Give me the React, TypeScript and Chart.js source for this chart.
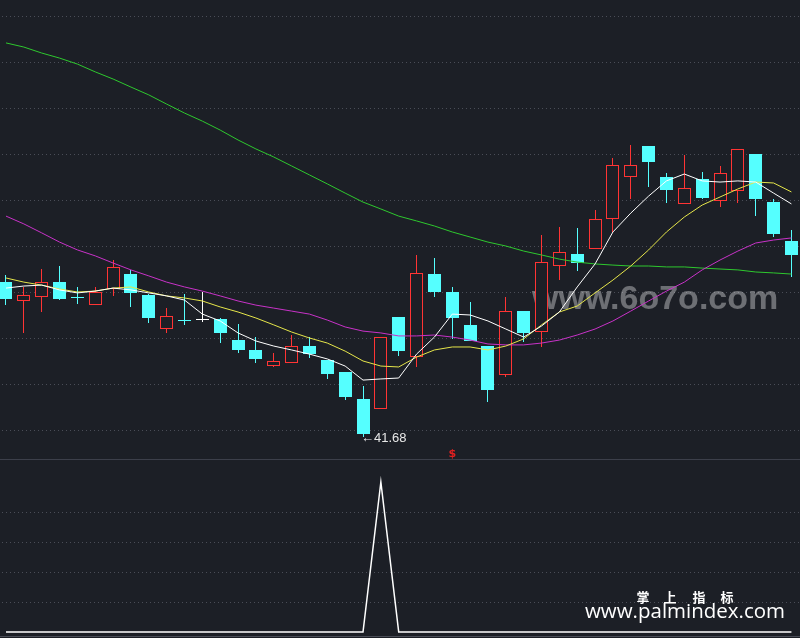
import React, { useEffect, useRef } from "react";
import { Chart, registerables } from "chart.js";

Chart.register(...registerables);

// ---------- data ----------
const open = [48.43, 47.61, 47.78, 48.43, 47.78, 47.43, 48.13, 48.78, 47.87, 46.39, 46.74, 46.78, 46.83, 45.91, 45.48, 44.78, 44.91, 45.65, 45.04, 44.52, 43.35, 42.91, 46.91, 45.17, 48.78, 48.0, 46.57, 45.65, 44.39, 47.17, 46.26, 49.13, 49.65, 49.87, 51.17, 53.0, 54.35, 53.0, 51.83, 52.91, 51.96, 52.39, 54.0, 51.91, 50.22];
const high = [48.74, 48.22, 49.0, 49.13, 48.22, 48.22, 49.39, 48.96, 47.91, 47.3, 47.91, 48.0, 46.87, 46.61, 46.04, 45.35, 46.13, 46.04, 45.04, 44.52, 43.91, 46.04, 46.91, 49.61, 49.48, 48.22, 47.57, 45.65, 47.78, 47.17, 50.48, 50.83, 50.78, 51.57, 53.83, 54.39, 54.35, 53.17, 53.96, 53.22, 53.48, 54.22, 54.0, 52.04, 50.7];
const low = [47.43, 46.22, 47.13, 47.65, 47.48, 47.43, 47.83, 47.35, 46.65, 46.22, 46.57, 46.7, 45.78, 45.35, 44.91, 44.74, 44.91, 45.13, 44.22, 43.3, 41.68, 42.91, 45.22, 44.74, 47.78, 45.96, 45.87, 43.22, 44.3, 45.83, 45.61, 48.52, 48.91, 49.87, 50.61, 52.04, 52.57, 51.87, 51.83, 52.04, 51.7, 51.87, 51.3, 50.39, 48.65];
const close = [47.7, 47.87, 48.43, 47.7, 47.76, 48.0, 49.09, 47.96, 46.87, 46.96, 46.72, 46.78, 46.22, 45.48, 45.09, 45.0, 45.65, 45.3, 44.43, 43.43, 41.83, 46.04, 45.43, 48.83, 48.0, 46.87, 45.87, 43.74, 47.17, 46.22, 49.3, 49.74, 49.26, 51.17, 53.52, 53.52, 53.65, 52.43, 52.52, 52.09, 53.17, 54.22, 52.04, 50.52, 49.61];

const maWhite = [48.17, 48.26, 48.3, 48.09, 47.96, 48.04, 48.17, 48.09, 47.96, 47.83, 47.65, 47.04, 46.74, 46.22, 45.87, 45.65, 45.48, 45.3, 45.09, 44.78, 44.17, 44.22, 44.26, 45.3, 46.04, 47.04, 47.0, 46.74, 46.39, 46.04, 46.52, 47.13, 48.22, 49.22, 50.61, 51.43, 52.17, 52.83, 53.13, 52.83, 52.78, 52.83, 52.78, 52.3, 51.83];
const maYellow = [48.61, 48.43, 48.3, 48.13, 48.0, 48.04, 48.17, 48.22, 48.0, 47.83, 47.74, 47.61, 47.35, 47.13, 46.87, 46.57, 46.26, 46.0, 45.78, 45.43, 45.0, 44.78, 44.74, 45.17, 45.48, 45.61, 45.61, 45.48, 45.65, 45.96, 46.57, 47.13, 47.39, 47.96, 48.52, 49.13, 49.83, 50.61, 51.26, 51.78, 52.13, 52.48, 52.78, 52.74, 52.35];
const maMagenta = [51.3, 50.96, 50.57, 50.17, 49.83, 49.57, 49.26, 48.96, 48.7, 48.43, 48.22, 48.04, 47.83, 47.61, 47.43, 47.3, 47.17, 47.04, 46.78, 46.48, 46.3, 46.22, 46.09, 46.09, 46.13, 46.04, 45.91, 45.74, 45.7, 45.7, 45.78, 45.91, 46.13, 46.39, 46.74, 47.17, 47.61, 48.04, 48.43, 48.96, 49.39, 49.78, 50.13, 50.26, 50.35];
const maGreen = [58.83, 58.65, 58.39, 58.17, 57.91, 57.57, 57.26, 56.91, 56.57, 56.17, 55.78, 55.43, 55.04, 54.61, 54.22, 53.87, 53.48, 53.09, 52.7, 52.3, 51.91, 51.61, 51.3, 51.09, 50.87, 50.61, 50.39, 50.17, 50.0, 49.78, 49.61, 49.43, 49.3, 49.22, 49.17, 49.13, 49.13, 49.09, 49.09, 49.04, 49.0, 48.96, 48.87, 48.83, 48.78];

const signal = [0, 0, 0, 0, 0, 0, 0, 0, 0, 0, 0, 0, 0, 0, 0, 0, 0, 0, 0, 0, 0, 1, 0, 0, 0, 0, 0, 0, 0, 0, 0, 0, 0, 0, 0, 0, 0, 0, 0, 0, 0, 0, 0, 0, 0];

const priceGrid = [42, 44, 46, 48, 50, 52, 54, 56, 58, 60];
const signalGrid = [0.2, 0.4, 0.6, 0.8];
const buyMarkIndex = 25;

// ---------- style ----------
const BG = "#1c1f26";
const GRID = "#4a4d57";
const UP = "#ff3434";
const DOWN = "#55ffff";
const FLAT = "#ffffff";

const X_MIN = -0.336;
const X_MAX = 44.48;

const candleColor = (i: number) =>
  close[i] > open[i] ? UP : close[i] < open[i] ? DOWN : FLAT;

const bgPlugin = {
  id: "bgFill",
  beforeDraw(chart: any) {
    const { ctx, width, height } = chart;
    ctx.save();
    ctx.fillStyle = BG;
    ctx.fillRect(0, 0, width, height);
    ctx.restore();
  },
};

// snap bar elements (positions computed by the scales) to whole pixels for crisp candles
const snapPlugin = {
  id: "snapBars",
  afterDatasetsUpdate(chart: any) {
    chart.data.datasets.forEach((ds: any, di: number) => {
      if (ds.type !== "bar") return;
      const meta = chart.getDatasetMeta(di);
      meta.data.forEach((el: any) => {
        el.x = Math.floor(el.x) + 0.5;
        el.y = Math.round(el.y);
        el.base = Math.round(el.base);
      });
    });
  },
};

function dotted(chart: any, values: number[]) {
  const { ctx, chartArea, scales } = chart;
  ctx.save();
  ctx.fillStyle = GRID;
  values.forEach((v) => {
    const y = Math.round(scales.y.getPixelForValue(v));
    for (let x = chartArea.left + 2; x < chartArea.right; x += 4) ctx.fillRect(x, y, 1, 1);
  });
  ctx.restore();
}

export default function App() {
  const topRef = useRef<HTMLCanvasElement>(null);
  const botRef = useRef<HTMLCanvasElement>(null);

  useEffect(() => {
    const idx = open.map((_, i) => i);

    const topPlugin = {
      id: "topDecor",
      beforeDatasetsDraw(chart: any) {
        dotted(chart, priceGrid);
        const { ctx } = chart;
        ctx.save();
        ctx.font = "bold 34px 'Liberation Sans', Arial, sans-serif";
        ctx.fillStyle = "rgba(255,255,255,0.36)";
        ctx.textBaseline = "alphabetic";
        ctx.fillText("www.6o7o.com", 532, 309, 249);
        ctx.restore();
      },
      afterDatasetsDraw(chart: any) {
        const { ctx, scales, chartArea } = chart;
        let mi = 0;
        low.forEach((v, i) => {
          if (v < low[mi]) mi = i;
        });
        const x = scales.x.getPixelForValue(mi);
        const y = scales.y.getPixelForValue(low[mi]);
        ctx.save();
        ctx.font = "13px 'Liberation Sans', 'DejaVu Sans', sans-serif";
        ctx.fillStyle = "#e8e8e8";
        ctx.textBaseline = "middle";
        ctx.textAlign = "left";
        ctx.fillText("\u2190" + low[mi].toFixed(2), x - 2, y + 1);
        const bx = scales.x.getPixelForValue(buyMarkIndex);
        ctx.font = "bold 11px 'DejaVu Sans', sans-serif";
        ctx.fillStyle = "#e02020";
        ctx.textAlign = "center";
        ctx.textBaseline = "alphabetic";
        ctx.fillText("$", bx, chartArea.bottom - 2);
        ctx.restore();
      },
    };

    const lineDs = (data: number[], color: string, order: number) => ({
      type: "line" as const,
      data: data.map((v, i) => ({ x: i, y: v })),
      borderColor: color,
      borderWidth: 1,
      pointRadius: 0,
      tension: 0,
      order,
    });

    const top = new Chart(topRef.current as HTMLCanvasElement, {
      type: "line",
      data: {
        datasets: [
          lineDs(maWhite, "#ffffff", 0),
          lineDs(maYellow, "#e6e64a", 1),
          lineDs(maMagenta, "#c832c8", 1),
          lineDs(maGreen, "#2ec82e", 1),
          {
            type: "bar",
            data: idx.map((i) => ({ x: i, y: [open[i], close[i]] })),
            backgroundColor: idx.map((i) => (close[i] > open[i] ? BG : candleColor(i))),
            borderColor: idx.map((i) => candleColor(i)),
            borderWidth: 1,
            borderSkipped: false,
            barThickness: 13,
            minBarLength: 1,
            inflateAmount: 0,
            grouped: false,
            order: 2,
          } as any,
          {
            type: "bar",
            data: idx.map((i) => ({ x: i, y: [low[i], high[i]] })),
            backgroundColor: idx.map((i) => candleColor(i)),
            borderWidth: 0,
            barThickness: 1,
            inflateAmount: 0,
            grouped: false,
            order: 3,
          } as any,
        ],
      },
      options: {
        responsive: false,
        maintainAspectRatio: false,
        devicePixelRatio: 1,
        animation: false,
        layout: { padding: 0 },
        plugins: { legend: { display: false }, tooltip: { enabled: false } },
        scales: {
          x: { type: "linear", min: X_MIN, max: X_MAX, offset: false, display: false },
          y: { type: "linear", min: 40.7391, max: 60.6957, display: false },
        },
      } as any,
      plugins: [bgPlugin, snapPlugin, topPlugin],
    });

    const botPlugin = {
      id: "botDecor",
      beforeDatasetsDraw(chart: any) {
        dotted(chart, signalGrid);
      },
      afterDatasetsDraw(chart: any) {
        const { ctx, chartArea } = chart;
        ctx.save();
        ctx.fillStyle = "#4a4d57";
        ctx.fillRect(chartArea.left, chartArea.bottom - 2, chartArea.right - chartArea.left, 1);
        ctx.fillStyle = "#ffffff";
        ctx.font = "bold 13px 'Noto Sans CJK SC', sans-serif";
        ctx.textAlign = "center";
        ctx.textBaseline = "middle";
        const chars = ["掌", "上", "指", "标"];
        const cx = [643, 670, 699, 727];
        chars.forEach((c, k) => ctx.fillText(c, cx[k], 137));
        ctx.font = "20.5px 'Open Sans', 'Noto Sans', sans-serif";
        ctx.textAlign = "left";
        ctx.textBaseline = "alphabetic";
        ctx.fillText("www.palmindex.com", 585, 158, 200);
        ctx.restore();
      },
    };

    const bot = new Chart(botRef.current as HTMLCanvasElement, {
      type: "line",
      data: {
        datasets: [
          {
            data: signal.map((v, i) => ({ x: i, y: v })),
            borderColor: "#ffffff",
            borderWidth: 1.5,
            pointRadius: 0,
            tension: 0,
          },
        ],
      },
      options: {
        responsive: false,
        maintainAspectRatio: false,
        devicePixelRatio: 1,
        animation: false,
        layout: { padding: 0 },
        plugins: { legend: { display: false }, tooltip: { enabled: false } },
        scales: {
          x: { type: "linear", min: X_MIN, max: X_MAX, offset: false, display: false },
          y: { type: "linear", min: -0.04, max: 1.1467, display: false },
        },
      } as any,
      plugins: [bgPlugin, botPlugin],
    });

    return () => {
      top.destroy();
      bot.destroy();
    };
  }, []);

  return (
    <div
      style={{
        position: "fixed",
        left: 0,
        top: 0,
        width: 800,
        height: 638,
        background: BG,
        overflow: "hidden",
      }}
    >
      <canvas ref={topRef} width={800} height={459} style={{ display: "block" }} />
      <div style={{ height: 1, background: "#3c3f4a" }} />
      <canvas ref={botRef} width={800} height={178} style={{ display: "block" }} />
    </div>
  );
}
